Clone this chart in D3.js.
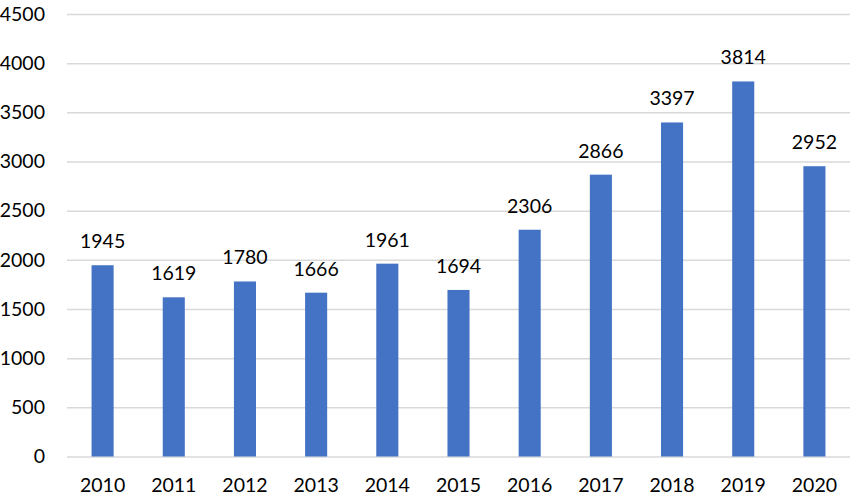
<!DOCTYPE html>
<html><head><meta charset="utf-8">
<script src="https://cdn.jsdelivr.net/npm/d3@7"></script>
<style>body{margin:0;background:#fff}text{font-family:Lato,"Open Sans",sans-serif}</style>
</head><body><svg id="c" width="850" height="500"></svg>
<script>
const years = ["2010","2011","2012","2013","2014","2015","2016","2017","2018","2019","2020"];
const values = [1945,1619,1780,1666,1961,1694,2306,2866,3397,3814,2952];
const yTicks = [0,500,1000,1500,2000,2500,3000,3500,4000,4500];

(function(){
const svg = d3.select("#c");
const mLeft = 67, mRight = 850, mTop = 14, mBottom = 456.5;
const x = d3.scaleBand().domain(years).range([mLeft, mRight]).paddingInner(0.69).paddingOuter(0.345);
const y = d3.scaleLinear().domain([0,4500]).range([mBottom, mTop]);

const yAxis = svg.append("g").attr("transform",`translate(${mLeft},0)`)
  .call(d3.axisLeft(y).tickValues(yTicks).tickFormat(d3.format("d")).tickSize(-(mRight-mLeft)).tickPadding(22));
yAxis.select(".domain").remove();
yAxis.selectAll(".tick line").attr("stroke","#d9d9d9").attr("stroke-width",1.5);
yAxis.selectAll(".tick text").attr("font-size",19.5).attr("fill","#000").attr("font-family","Lato");

const xAxis = svg.append("g").attr("transform",`translate(0,${mBottom})`)
  .call(d3.axisBottom(x).tickSize(0).tickPadding(22));
xAxis.select(".domain").remove();
xAxis.selectAll(".tick text").attr("font-size",19.5).attr("fill","#000").attr("font-family","Lato");

svg.append("g").selectAll("rect").data(values).join("rect")
  .attr("x",(d,i)=>x(years[i])).attr("width",x.bandwidth())
  .attr("y",d=>y(d)).attr("height",d=>mBottom-y(d)).attr("fill","#4472c4");

svg.append("g").selectAll("text").data(values).join("text")
  .attr("x",(d,i)=>x(years[i])+x.bandwidth()/2).attr("y",d=>y(d)-17)
  .attr("text-anchor","middle").attr("font-size",19.5).attr("fill","#000")
  .attr("font-family","Lato").text(d=>d);
})();
</script></body></html>
